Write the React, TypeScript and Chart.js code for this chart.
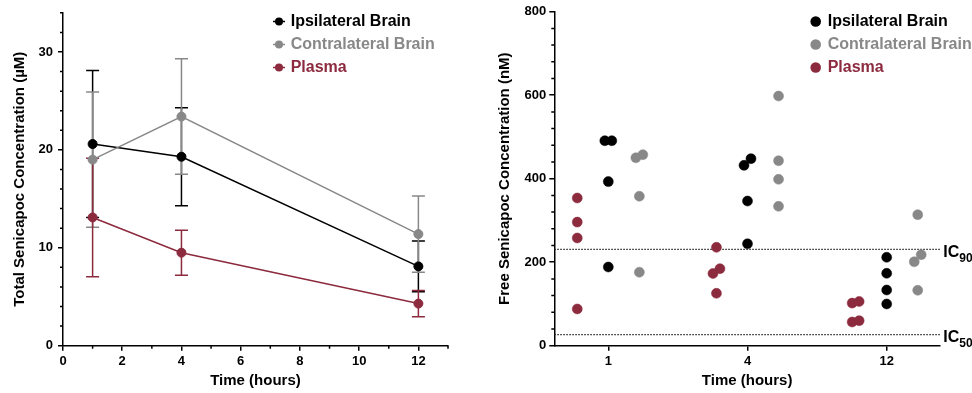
import React, { useEffect, useRef } from 'react';
import { Chart, registerables } from 'chart.js';

Chart.register(...registerables);

const FONT = '"Liberation Sans", Arial, Helvetica, sans-serif';

const seriesNames = ['Ipsilateral Brain', 'Contralateral Brain', 'Plasma'];
const seriesColors = ['#000000', '#888888', '#8C2A3E'];

// ---- Left panel: total senicapoc (µM), mean ± SD ----
const timeHours = [1, 4, 12];
const ipsiMean = [20.6, 19.3, 8.1];
const ipsiSd = [7.5, 5.0, 2.6];
const contraMean = [19.0, 23.4, 11.4];
const contraSd = [6.9, 5.9, 3.9];
const plasmaMean = [13.1, 9.5, 4.3];
const plasmaSd = [6.05, 2.3, 1.35];
const leftXTicks = [0, 2, 4, 6, 8, 10, 12];
const leftXMinor = [1, 3, 5, 7, 9, 11, 13];
const leftYTicks = [0, 10, 20, 30];
const leftYMinor = [2, 4, 6, 8, 12, 14, 16, 18, 22, 24, 26, 28, 32, 34];

// ---- Right panel: free senicapoc (nM), individual values ----
const timeLabels = ['1', '4', '12'];
const ipsiFree = [
  [491, 491, 393, 188.5],
  [432, 448, 346.5, 244],
  [211.7, 173.4, 133.4, 99.9],
];
const contraFree = [
  [450, 457.5, 358, 176],
  [598, 443, 398.5, 333.8],
  [313.8, 201, 218, 132.7],
];
const plasmaFree = [
  [353.7, 296, 258, 88],
  [235.6, 173, 184.5, 125.5],
  [102, 106, 56.8, 60],
];
const ic90 = 230.8;
const ic50 = 26.4;
const rightYTicks = [0, 200, 400, 600, 800];
const rightYMinor = [40, 80, 120, 160, 240, 280, 320, 360, 440, 480, 520, 560, 640, 680, 720, 760];

const leftMeans = [ipsiMean, contraMean, plasmaMean];
const leftSds = [ipsiSd, contraSd, plasmaSd];
const rightValues = [ipsiFree, contraFree, plasmaFree];
const groupOffset = [0, 0.223, -0.223];
const JIT = 0.025;

const bold = (size: number) => ({ family: FONT, size, weight: 'bold' as const });

function spread(values: number[], center: number) {
  const pts = values.map((v) => ({ x: center, y: v }));
  const sorted = [...pts].sort((a, b) => a.y - b.y);
  for (let i = 0; i < sorted.length - 1; i++) {
    if (sorted[i + 1].y - sorted[i].y < 25) {
      sorted[i].x = center - JIT;
      sorted[i + 1].x = center + JIT;
      i++;
    }
  }
  return pts;
}

function drawMinorTicks(chart: any, xVals: number[], yVals: number[], len: number) {
  const { ctx, chartArea } = chart;
  const xs = chart.scales.x;
  const ys = chart.scales.y;
  ctx.save();
  ctx.strokeStyle = '#000';
  ctx.lineWidth = 1.5;
  ctx.beginPath();
  xVals.forEach((v) => {
    const x = xs.getPixelForValue(v);
    ctx.moveTo(x, chartArea.bottom);
    ctx.lineTo(x, chartArea.bottom + len);
  });
  yVals.forEach((v) => {
    const y = ys.getPixelForValue(v);
    ctx.moveTo(chartArea.left, y);
    ctx.lineTo(chartArea.left - len, y);
  });
  ctx.stroke();
  ctx.restore();
}

function drawLegend(ctx: CanvasRenderingContext2D, markerX: number, textX: number, withLine: boolean, r: number) {
  const ys = [21.5, 44.5, 67.5];
  ctx.save();
  ctx.font = `bold 16px ${FONT}`;
  ctx.textBaseline = 'middle';
  ctx.textAlign = 'left';
  seriesNames.forEach((name, i) => {
    const y = ys[i];
    ctx.fillStyle = seriesColors[i];
    ctx.strokeStyle = seriesColors[i];
    if (withLine) {
      ctx.lineWidth = 1.5;
      ctx.beginPath();
      ctx.moveTo(markerX - 6, y);
      ctx.lineTo(markerX + 6, y);
      ctx.stroke();
    }
    ctx.beginPath();
    ctx.arc(markerX, y, r, 0, Math.PI * 2);
    ctx.fill();
    ctx.fillText(name, textX, y);
  });
  ctx.restore();
}

const leftPlugin = {
  id: 'leftDecor',
  beforeDatasetsDraw(chart: any) {
    const { ctx } = chart;
    const xs = chart.scales.x;
    const ys = chart.scales.y;
    ctx.save();
    ctx.lineWidth = 1.5;
    [0, 1, 2].forEach((i) => {
      ctx.strokeStyle = seriesColors[i];
      timeHours.forEach((t, j) => {
        const x = xs.getPixelForValue(t);
        const yTop = ys.getPixelForValue(leftMeans[i][j] + leftSds[i][j]);
        const yBot = ys.getPixelForValue(leftMeans[i][j] - leftSds[i][j]);
        ctx.beginPath();
        ctx.moveTo(x, yTop);
        ctx.lineTo(x, yBot);
        ctx.moveTo(x - 6.5, yTop);
        ctx.lineTo(x + 6.5, yTop);
        ctx.moveTo(x - 6.5, yBot);
        ctx.lineTo(x + 6.5, yBot);
        ctx.stroke();
      });
    });
    ctx.restore();
  },
  afterDraw(chart: any) {
    drawMinorTicks(chart, leftXMinor, leftYMinor, 3);
    drawLegend(chart.ctx, 279, 290.7, true, 4);
  },
};

const rightPlugin = {
  id: 'rightDecor',
  beforeDatasetsDraw(chart: any) {
    const { ctx, chartArea } = chart;
    const ys = chart.scales.y;
    ctx.save();
    ctx.strokeStyle = '#222';
    ctx.lineWidth = 1.3;
    ctx.setLineDash([1.5, 1.5]);
    [ic90, ic50].forEach((v) => {
      const y = ys.getPixelForValue(v);
      ctx.beginPath();
      ctx.moveTo(chartArea.left, y);
      ctx.lineTo(chartArea.right, y);
      ctx.stroke();
    });
    ctx.restore();
  },
  afterDraw(chart: any) {
    const { ctx, chartArea } = chart;
    const ys = chart.scales.y;
    drawMinorTicks(chart, [], rightYMinor, 3);
    drawLegend(ctx, 325.7, 337.7, false, 5.3);
    ctx.save();
    ctx.fillStyle = '#000';
    ctx.textBaseline = 'alphabetic';
    ctx.textAlign = 'left';
    [['90', ic90], ['50', ic50]].forEach(([sub, v]) => {
      const y = ys.getPixelForValue(v as number);
      const x = chartArea.right + 3.3;
      ctx.font = `bold 16px ${FONT}`;
      ctx.fillText('IC', x, y + 7.5);
      const w = ctx.measureText('IC').width;
      ctx.font = `bold 12px ${FONT}`;
      ctx.fillText(sub as string, x + w, y + 12.7);
    });
    ctx.restore();
  },
};

const axisGrid = {
  drawOnChartArea: false,
  drawTicks: true,
  tickLength: 5,
  color: '#000',
  lineWidth: 1.5,
};
const axisBorder = { display: true, color: '#000', width: 1.5 };

function leftConfig(): any {
  return {
    type: 'line',
    data: {
      datasets: [0, 1, 2].map((i) => ({
        label: seriesNames[i],
        data: timeHours.map((t, j) => ({ x: t, y: leftMeans[i][j] })),
        borderColor: seriesColors[i],
        backgroundColor: seriesColors[i],
        pointBackgroundColor: seriesColors[i],
        pointBorderColor: seriesColors[i],
        borderWidth: 1.5,
        pointRadius: 4.5,
        pointBorderWidth: 1,
        tension: 0,
        order: 3 - i,
      })),
    },
    options: {
      animation: false,
      responsive: false,
      devicePixelRatio: 1,
      layout: { padding: { left: 0, right: 32, top: 12.5, bottom: 0 } },
      plugins: { legend: { display: false }, tooltip: { enabled: false } },
      scales: {
        x: {
          type: 'linear',
          min: 0,
          max: 13,
          afterBuildTicks: (s: any) => {
            s.ticks = leftXTicks.map((v) => ({ value: v }));
          },
          afterFit: (s: any) => {
            s.height = 47.3;
          },
          ticks: { font: bold(13), color: '#000', padding: 3, maxRotation: 0, autoSkip: false },
          grid: axisGrid,
          border: axisBorder,
          title: { display: true, text: 'Time (hours)', font: bold(15), color: '#000', padding: { top: 0, bottom: 3 } },
        },
        y: {
          type: 'linear',
          min: 0,
          max: 34,
          afterBuildTicks: (s: any) => {
            s.ticks = leftYTicks.map((v) => ({ value: v }));
          },
          afterFit: (s: any) => {
            s.width = 63;
          },
          ticks: { font: bold(13), color: '#000', padding: 5 },
          grid: axisGrid,
          border: axisBorder,
          title: {
            display: true,
            text: 'Total Senicapoc Concentration (µM)',
            font: bold(15),
            color: '#000',
            padding: { top: 11, bottom: 0 },
          },
        },
      },
    },
    plugins: [leftPlugin],
  };
}

function rightConfig(): any {
  return {
    type: 'scatter',
    data: {
      datasets: [0, 1, 2].map((i) => ({
        label: seriesNames[i],
        data: rightValues[i].flatMap((vals, g) => spread(vals, g + 1 + groupOffset[i])),
        backgroundColor: seriesColors[i],
        borderColor: seriesColors[i],
        pointRadius: 5,
        pointBorderWidth: 0.5,
        showLine: false,
      })),
    },
    options: {
      animation: false,
      responsive: false,
      devicePixelRatio: 1,
      layout: { padding: { left: 0, right: 32, top: 11.7, bottom: 0 } },
      plugins: { legend: { display: false }, tooltip: { enabled: false } },
      scales: {
        x: {
          type: 'linear',
          min: 0.612,
          max: 3.383,
          afterBuildTicks: (s: any) => {
            s.ticks = timeLabels.map((_, k) => ({ value: k + 1 }));
          },
          afterFit: (s: any) => {
            s.height = 47.3;
          },
          ticks: {
            font: bold(13),
            color: '#000',
            padding: 3,
            maxRotation: 0,
            autoSkip: false,
            callback: (v: number) => timeLabels[Math.round(v) - 1] ?? '',
          },
          grid: axisGrid,
          border: axisBorder,
          title: { display: true, text: 'Time (hours)', font: bold(15), color: '#000', padding: { top: 0, bottom: 3 } },
        },
        y: {
          type: 'linear',
          min: 0,
          max: 800,
          afterBuildTicks: (s: any) => {
            s.ticks = rightYTicks.map((v) => ({ value: v }));
          },
          afterFit: (s: any) => {
            s.width = 64.3;
          },
          ticks: { font: bold(13), color: '#000', padding: 3 },
          grid: axisGrid,
          border: axisBorder,
          title: {
            display: true,
            text: 'Free Senicapoc Concentration (nM)',
            font: bold(15),
            color: '#000',
            padding: { top: 6, bottom: 0 },
          },
        },
      },
    },
    plugins: [rightPlugin],
  };
}

export default function App() {
  const leftRef = useRef<HTMLCanvasElement>(null);
  const rightRef = useRef<HTMLCanvasElement>(null);
  useEffect(() => {
    const c1 = new Chart(leftRef.current!, leftConfig());
    const c2 = new Chart(rightRef.current!, rightConfig());
    return () => {
      c1.destroy();
      c2.destroy();
    };
  }, []);
  return (
    <div
      style={{
        position: 'fixed',
        left: 0,
        top: 0,
        width: 972,
        height: 393,
        background: '#fff',
        overflow: 'hidden',
      }}
    >
      <canvas
        ref={leftRef}
        width={480}
        height={393}
        style={{ position: 'absolute', left: 0, top: 0, width: 480, height: 393 }}
      />
      <canvas
        ref={rightRef}
        width={482}
        height={393}
        style={{ position: 'absolute', left: 490, top: 0, width: 482, height: 393 }}
      />
    </div>
  );
}
